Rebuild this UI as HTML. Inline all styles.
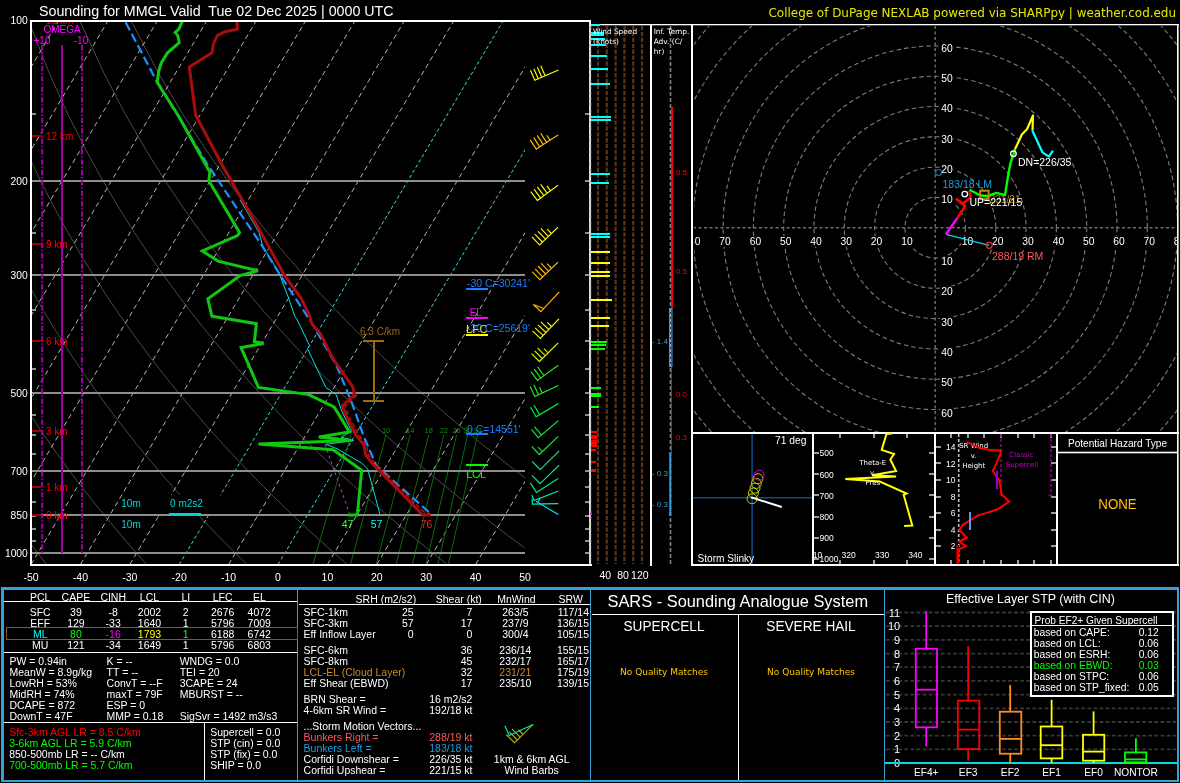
<!DOCTYPE html>
<html><head><meta charset="utf-8"><title>Sounding MMGL</title>
<style>
html,body{margin:0;padding:0;background:#000;overflow:hidden}
svg{display:block}
text{white-space:pre}
.h{font-family:"Liberation Sans",Arial,Helvetica,sans-serif}
.d{font-family:"DejaVu Sans","Liberation Sans",sans-serif}
.c{shape-rendering:crispEdges}
</style></head><body>
<svg width="1180" height="783" viewBox="0 0 1180 783">
<rect width="1180" height="783" fill="#000"/>
<defs><clipPath id="sk"><rect x="32" y="22" width="493" height="542"/></clipPath>
<clipPath id="hodo"><rect x="694" y="26" width="483" height="406"/></clipPath>
<clipPath id="mr"><rect x="32" y="434.9" width="493" height="129.1"/></clipPath>
</defs>
<g clip-path="url(#sk)">
<polyline points="-53.6,564.4 -57.3,558.8 -61,553.1 -64.7,547.2 -68.5,541.2 -72.4,535.1 -76.2,528.7 -80.2,522.2 -84.1,515.5 -88.1,508.6 -92.2,501.5 -96.3,494.1 -100.5,486.5 -104.8,478.7 -109.1,470.6 -113.4,462.2 -117.8,453.4 -122.3,444.4 -126.9,434.9 -131.5,425.1 -136.2,414.8 -140.9,404 -145.7,392.8 -150.7,380.9 -155.6,368.4 -160.7,355.2 -165.8,341.1 -171,326.2 -176.3,310.3 -181.7,293.1 -187.1,274.6 -192.6,254.5 -198.1,232.4 -203.6,208.1 -209.1,180.8 -214.4,149.9 -219.4,114.3 -223.9,72.1 -227.3,20.5" fill="none" stroke="#4a4a4a" stroke-width="1" />
<polyline points="46.5,564.4 42.2,558.8 37.8,553.1 33.3,547.2 28.8,541.2 24.3,535.1 19.6,528.7 14.9,522.2 10.2,515.5 5.4,508.6 0.5,501.5 -4.5,494.1 -9.5,486.5 -14.6,478.7 -19.8,470.6 -25.1,462.2 -30.5,453.4 -35.9,444.4 -41.5,434.9 -47.1,425.1 -52.9,414.8 -58.7,404 -64.7,392.8 -70.8,380.9 -77,368.4 -83.3,355.2 -89.8,341.1 -96.4,326.2 -103.1,310.3 -110,293.1 -117.1,274.6 -124.3,254.5 -131.6,232.4 -139.1,208.1 -146.7,180.8 -154.3,149.9 -161.9,114.3 -169.3,72.1 -176.2,20.5" fill="none" stroke="#4a4a4a" stroke-width="1" />
<polyline points="146.7,564.4 141.7,558.8 136.6,553.1 131.4,547.2 126.2,541.2 120.9,535.1 115.5,528.7 110,522.2 104.5,515.5 98.9,508.6 93.2,501.5 87.4,494.1 81.5,486.5 75.5,478.7 69.4,470.6 63.2,462.2 56.9,453.4 50.5,444.4 43.9,434.9 37.2,425.1 30.4,414.8 23.5,404 16.4,392.8 9.1,380.9 1.7,368.4 -6,355.2 -13.7,341.1 -21.7,326.2 -29.9,310.3 -38.4,293.1 -47,274.6 -56,254.5 -65.1,232.4 -74.6,208.1 -84.3,180.8 -94.3,149.9 -104.5,114.3 -114.8,72.1 -125,20.5" fill="none" stroke="#4a4a4a" stroke-width="1" />
<polyline points="246.9,564.4 241.2,558.8 235.4,553.1 229.5,547.2 223.6,541.2 217.5,535.1 211.4,528.7 205.1,522.2 198.8,515.5 192.4,508.6 185.9,501.5 179.2,494.1 172.5,486.5 165.6,478.7 158.6,470.6 151.5,462.2 144.2,453.4 136.8,444.4 129.3,434.9 121.6,425.1 113.7,414.8 105.6,404 97.4,392.8 89,380.9 80.3,368.4 71.4,355.2 62.3,341.1 52.9,326.2 43.3,310.3 33.3,293.1 23,274.6 12.4,254.5 1.4,232.4 -10.1,208.1 -21.9,180.8 -34.2,149.9 -47,114.3 -60.3,72.1 -73.8,20.5" fill="none" stroke="#4a4a4a" stroke-width="1" />
<polyline points="347.1,564.4 340.7,558.8 334.2,553.1 327.6,547.2 320.9,541.2 314.1,535.1 307.2,528.7 300.3,522.2 293.1,515.5 285.9,508.6 278.6,501.5 271.1,494.1 263.5,486.5 255.7,478.7 247.9,470.6 239.8,462.2 231.6,453.4 223.2,444.4 214.7,434.9 205.9,425.1 197,414.8 187.8,404 178.5,392.8 168.8,380.9 158.9,368.4 148.8,355.2 138.3,341.1 127.6,326.2 116.4,310.3 105,293.1 93,274.6 80.7,254.5 67.8,232.4 54.5,208.1 40.5,180.8 25.8,149.9 10.4,114.3 -5.7,72.1 -22.6,20.5" fill="none" stroke="#4a4a4a" stroke-width="1" />
<polyline points="447.3,564.4 440.2,558.8 433,553.1 425.7,547.2 418.3,541.2 410.8,535.1 403.1,528.7 395.4,522.2 387.5,515.5 379.4,508.6 371.3,501.5 363,494.1 354.5,486.5 345.9,478.7 337.1,470.6 328.1,462.2 319,453.4 309.6,444.4 300.1,434.9 290.3,425.1 280.3,414.8 270,404 259.5,392.8 248.7,380.9 237.6,368.4 226.2,355.2 214.4,341.1 202.2,326.2 189.6,310.3 176.6,293.1 163.1,274.6 149,254.5 134.3,232.4 119,208.1 102.9,180.8 85.9,149.9 67.9,114.3 48.8,72.1 28.5,20.5" fill="none" stroke="#4a4a4a" stroke-width="1" />
<polyline points="547.5,564.4 539.7,558.8 531.8,553.1 523.8,547.2 515.6,541.2 507.4,535.1 499,528.7 490.5,522.2 481.8,515.5 472.9,508.6 464,501.5 454.8,494.1 445.5,486.5 436,478.7 426.3,470.6 416.4,462.2 406.3,453.4 396,444.4 385.4,434.9 374.6,425.1 363.6,414.8 352.2,404 340.5,392.8 328.6,380.9 316.2,368.4 303.5,355.2 290.4,341.1 276.9,326.2 262.8,310.3 248.3,293.1 233.1,274.6 217.3,254.5 200.8,232.4 183.5,208.1 165.2,180.8 145.9,149.9 125.4,114.3 103.4,72.1 79.7,20.5" fill="none" stroke="#4a4a4a" stroke-width="1" />
<polyline points="647.7,564.4 639.2,558.8 630.6,553.1 621.9,547.2 613,541.2 604,535.1 594.9,528.7 585.6,522.2 576.1,515.5 566.5,508.6 556.7,501.5 546.7,494.1 536.5,486.5 526.1,478.7 515.5,470.6 504.7,462.2 493.7,453.4 482.4,444.4 470.8,434.9 459,425.1 446.8,414.8 434.4,404 421.6,392.8 408.4,380.9 394.9,368.4 380.9,355.2 366.5,341.1 351.5,326.2 336,310.3 319.9,293.1 303.2,274.6 285.7,254.5 267.3,232.4 248,208.1 227.6,180.8 206,149.9 182.8,114.3 157.9,72.1 130.9,20.5" fill="none" stroke="#4a4a4a" stroke-width="1" />
<line x1="-512.4" y1="564.5" x2="-188.2" y2="20.5" stroke="#b4b4b4" stroke-width="1" stroke-dasharray="5 3.5"/>
<line x1="-463" y1="564.5" x2="-138.8" y2="20.5" stroke="#b4b4b4" stroke-width="1" stroke-dasharray="5 3.5"/>
<line x1="-413.6" y1="564.5" x2="-89.4" y2="20.5" stroke="#b4b4b4" stroke-width="1" stroke-dasharray="5 3.5"/>
<line x1="-364.2" y1="564.5" x2="-40" y2="20.5" stroke="#b4b4b4" stroke-width="1" stroke-dasharray="5 3.5"/>
<line x1="-314.8" y1="564.5" x2="9.4" y2="20.5" stroke="#b4b4b4" stroke-width="1" stroke-dasharray="5 3.5"/>
<line x1="-265.4" y1="564.5" x2="58.8" y2="20.5" stroke="#b4b4b4" stroke-width="1" stroke-dasharray="5 3.5"/>
<line x1="-216" y1="564.5" x2="108.2" y2="20.5" stroke="#b4b4b4" stroke-width="1" stroke-dasharray="5 3.5"/>
<line x1="-166.6" y1="564.5" x2="157.6" y2="20.5" stroke="#b4b4b4" stroke-width="1" stroke-dasharray="5 3.5"/>
<line x1="-117.2" y1="564.5" x2="207" y2="20.5" stroke="#b4b4b4" stroke-width="1" stroke-dasharray="5 3.5"/>
<line x1="-67.8" y1="564.5" x2="256.4" y2="20.5" stroke="#b4b4b4" stroke-width="1" stroke-dasharray="5 3.5"/>
<line x1="-18.4" y1="564.5" x2="305.8" y2="20.5" stroke="#b4b4b4" stroke-width="1" stroke-dasharray="5 3.5"/>
<line x1="31" y1="564.5" x2="355.2" y2="20.5" stroke="#b4b4b4" stroke-width="1" stroke-dasharray="5 3.5"/>
<line x1="80.4" y1="564.5" x2="404.6" y2="20.5" stroke="#b4b4b4" stroke-width="1" stroke-dasharray="5 3.5"/>
<line x1="129.8" y1="564.5" x2="454" y2="20.5" stroke="#b4b4b4" stroke-width="1" stroke-dasharray="5 3.5"/>
<line x1="179.2" y1="564.5" x2="503.4" y2="20.5" stroke="#48d8d8" stroke-width="1" stroke-dasharray="3.5 2.5"/>
<line x1="228.6" y1="564.5" x2="552.8" y2="20.5" stroke="#b4b4b4" stroke-width="1" stroke-dasharray="5 3.5"/>
<line x1="278" y1="564.5" x2="602.2" y2="20.5" stroke="#48d8d8" stroke-width="1" stroke-dasharray="3.5 2.5"/>
<line x1="327.4" y1="564.5" x2="651.6" y2="20.5" stroke="#b4b4b4" stroke-width="1" stroke-dasharray="5 3.5"/>
<line x1="376.8" y1="564.5" x2="701" y2="20.5" stroke="#b4b4b4" stroke-width="1" stroke-dasharray="5 3.5"/>
<line x1="426.2" y1="564.5" x2="750.4" y2="20.5" stroke="#b4b4b4" stroke-width="1" stroke-dasharray="5 3.5"/>
<line x1="475.6" y1="564.5" x2="799.8" y2="20.5" stroke="#b4b4b4" stroke-width="1" stroke-dasharray="5 3.5"/>
<line x1="525" y1="564.5" x2="849.2" y2="20.5" stroke="#b4b4b4" stroke-width="1" stroke-dasharray="5 3.5"/>
</g>
<g clip-path="url(#sk)">
<line x1="312.9" y1="564.4" x2="351" y2="434.9" stroke="#0a6a0a" stroke-width="1" />
<line x1="350.4" y1="564.4" x2="386.1" y2="434.9" stroke="#0a6a0a" stroke-width="1" />
<text x="386.1" y="433.4" fill="#0d8a0d" font-size="7.5" text-anchor="middle" class="h" >10</text>
<line x1="376.2" y1="564.4" x2="410.2" y2="434.9" stroke="#0a6a0a" stroke-width="1" />
<text x="410.2" y="433.4" fill="#0d8a0d" font-size="7.5" text-anchor="middle" class="h" >14</text>
<line x1="396.1" y1="564.4" x2="428.7" y2="434.9" stroke="#0a6a0a" stroke-width="1" />
<text x="428.7" y="433.4" fill="#0d8a0d" font-size="7.5" text-anchor="middle" class="h" >18</text>
<line x1="412.3" y1="564.4" x2="443.8" y2="434.9" stroke="#0a6a0a" stroke-width="1" />
<text x="443.8" y="433.4" fill="#0d8a0d" font-size="7.5" text-anchor="middle" class="h" >22</text>
<line x1="426" y1="564.4" x2="456.6" y2="434.9" stroke="#0a6a0a" stroke-width="1" />
<text x="456.6" y="433.4" fill="#0d8a0d" font-size="7.5" text-anchor="middle" class="h" >26</text>
<line x1="437.9" y1="564.4" x2="467.7" y2="434.9" stroke="#0a6a0a" stroke-width="1" />
<text x="467.7" y="433.4" fill="#0d8a0d" font-size="7.5" text-anchor="middle" class="h" >30</text>
<line x1="448.4" y1="564.4" x2="477.5" y2="434.9" stroke="#0a6a0a" stroke-width="1" />
<text x="477.5" y="433.4" fill="#0d8a0d" font-size="7.5" text-anchor="middle" class="h" >34</text>
</g>
<rect x="157" y="495" width="63.5" height="19.3" fill="#000" />
<rect x="32" y="180" width="493" height="2" fill="#8e8e8e" class="c"/>
<rect x="32" y="274" width="493" height="2" fill="#8e8e8e" class="c"/>
<rect x="32" y="392" width="493" height="2" fill="#8e8e8e" class="c"/>
<rect x="32" y="470" width="493" height="2" fill="#8e8e8e" class="c"/>
<rect x="32" y="514" width="493" height="2" fill="#8e8e8e" class="c"/>
<rect x="32" y="552" width="493" height="2" fill="#8e8e8e" class="c"/>
<rect x="32" y="113" width="4" height="2" fill="#8e8e8e" class="c"/>
<rect x="585" y="113" width="5" height="2" fill="#8e8e8e" class="c"/>
<rect x="32" y="180" width="4" height="2" fill="#8e8e8e" class="c"/>
<rect x="585" y="180" width="5" height="2" fill="#8e8e8e" class="c"/>
<rect x="32" y="232" width="4" height="2" fill="#8e8e8e" class="c"/>
<rect x="585" y="232" width="5" height="2" fill="#8e8e8e" class="c"/>
<rect x="32" y="274" width="4" height="2" fill="#8e8e8e" class="c"/>
<rect x="585" y="274" width="5" height="2" fill="#8e8e8e" class="c"/>
<rect x="32" y="309" width="4" height="2" fill="#8e8e8e" class="c"/>
<rect x="585" y="309" width="5" height="2" fill="#8e8e8e" class="c"/>
<rect x="32" y="340" width="4" height="2" fill="#8e8e8e" class="c"/>
<rect x="585" y="340" width="5" height="2" fill="#8e8e8e" class="c"/>
<rect x="32" y="368" width="4" height="2" fill="#8e8e8e" class="c"/>
<rect x="585" y="368" width="5" height="2" fill="#8e8e8e" class="c"/>
<rect x="32" y="392" width="4" height="2" fill="#8e8e8e" class="c"/>
<rect x="585" y="392" width="5" height="2" fill="#8e8e8e" class="c"/>
<rect x="32" y="414" width="4" height="2" fill="#8e8e8e" class="c"/>
<rect x="585" y="414" width="5" height="2" fill="#8e8e8e" class="c"/>
<rect x="32" y="434" width="4" height="2" fill="#8e8e8e" class="c"/>
<rect x="585" y="434" width="5" height="2" fill="#8e8e8e" class="c"/>
<rect x="32" y="453" width="4" height="2" fill="#8e8e8e" class="c"/>
<rect x="585" y="453" width="5" height="2" fill="#8e8e8e" class="c"/>
<rect x="32" y="470" width="4" height="2" fill="#8e8e8e" class="c"/>
<rect x="585" y="470" width="5" height="2" fill="#8e8e8e" class="c"/>
<rect x="32" y="486" width="4" height="2" fill="#8e8e8e" class="c"/>
<rect x="585" y="486" width="5" height="2" fill="#8e8e8e" class="c"/>
<rect x="32" y="501" width="4" height="2" fill="#8e8e8e" class="c"/>
<rect x="585" y="501" width="5" height="2" fill="#8e8e8e" class="c"/>
<rect x="32" y="515" width="4" height="2" fill="#8e8e8e" class="c"/>
<rect x="585" y="515" width="5" height="2" fill="#8e8e8e" class="c"/>
<rect x="32" y="528" width="4" height="2" fill="#8e8e8e" class="c"/>
<rect x="585" y="528" width="5" height="2" fill="#8e8e8e" class="c"/>
<rect x="32" y="540" width="4" height="2" fill="#8e8e8e" class="c"/>
<rect x="585" y="540" width="5" height="2" fill="#8e8e8e" class="c"/>
<rect x="32" y="552" width="4" height="2" fill="#8e8e8e" class="c"/>
<rect x="585" y="552" width="5" height="2" fill="#8e8e8e" class="c"/>
<rect x="61" y="45" width="2" height="508" fill="#a000a0" class="c"/>
<line x1="42.2" y1="45" x2="42.2" y2="553" stroke="#a000a0" stroke-width="2" stroke-dasharray="5.4 1.8 1.4 1.8"/>
<line x1="82" y1="45" x2="82" y2="553" stroke="#a000a0" stroke-width="2" stroke-dasharray="5.4 1.8 1.4 1.8"/>
<text x="62" y="33" fill="#ff00ff" font-size="10" text-anchor="middle" class="h" >OMEGA</text>
<text x="42" y="44" fill="#ff00ff" font-size="10" text-anchor="middle" class="h" >+10</text>
<text x="81" y="44" fill="#ff00ff" font-size="10" text-anchor="middle" class="h" >-10</text>
<rect x="32" y="514" width="9" height="2" fill="#a00000" class="c"/>
<text x="46" y="518.5" fill="#ff0000" font-size="10" text-anchor="start" class="h" >0 km</text>
<rect x="32" y="486" width="9" height="2" fill="#a00000" class="c"/>
<text x="46" y="490.5" fill="#ff0000" font-size="10" text-anchor="start" class="h" >1 km</text>
<rect x="32" y="430" width="9" height="2" fill="#a00000" class="c"/>
<text x="46" y="434.5" fill="#ff0000" font-size="10" text-anchor="start" class="h" >3 km</text>
<rect x="32" y="340" width="9" height="2" fill="#a00000" class="c"/>
<text x="46" y="344.5" fill="#ff0000" font-size="10" text-anchor="start" class="h" >6 km</text>
<rect x="32" y="243" width="9" height="2" fill="#a00000" class="c"/>
<text x="46" y="247.5" fill="#ff0000" font-size="10" text-anchor="start" class="h" >9 km</text>
<rect x="32" y="135" width="9" height="2" fill="#a00000" class="c"/>
<text x="46" y="139.5" fill="#ff0000" font-size="10" text-anchor="start" class="h" >12 km</text>
<g clip-path="url(#sk)">
<text x="46" y="23.6" fill="#ff0000" font-size="10" text-anchor="start" class="h" >15 km</text>
</g>
<polyline points="324.9,444.3 349.3,513" fill="none" stroke="#e000e0" stroke-width="1.2" stroke-dasharray="3 3"/>
<polyline points="240,200 245.6,209 259,232.5 263,246.8 278.3,271.3 288.6,297.9 294.7,316.3 297.3,320 309.6,345.6 307.5,348.6 325.9,387.5 336.2,394.6 341.3,409.9 351.5,431.4 341.3,437.1 353.5,440.6 325.9,444.3 337.2,448.8 361.7,463.1 367.7,469.1 379.9,514" fill="none" stroke="#00e0e0" stroke-width="1" />
<polyline points="125.6,22.2 156.3,80.4 207.8,165 262,245.7 280.4,275.4 313.1,325 337.2,367 351.5,401.8 363.8,436.5 376,465.1 392.4,480 430,513" fill="none" stroke="#1e90ff" stroke-width="2.2" stroke-dasharray="9 4"/>
<polyline points="182.4,21.1 178.7,29.3 175.2,32.4 177.7,35.4 179.3,42.6 167.5,52.8 161.3,63 158.7,71.2 157.2,82.5 178.7,116.2 205.8,165 209.9,172.2 208.8,180.7 239.5,232.5 237.5,235.5 202.3,250.9 218,261.1 257.9,270.7 240.5,275.4 207.8,298.9 211.9,316.3 256.4,323.7 254.4,341.5 263.6,343.5 241.1,347.6 258.5,387.5 308.6,394.6 334.1,406.9 349.4,432 318.8,437.1 351.5,440.6 258.5,444.1 333.1,449.8 361.7,470.2 357.5,513 357,515 348,515" fill="none" stroke="#10c810" stroke-width="3" stroke-linejoin="miter"/>
<polyline points="237,21.1 237.4,29.3 224.7,31.8 217.5,35.4 213.5,43.6 212,52.8 189.3,67.1 195.7,115.2 222.1,165 261,232.5 284.5,275.4 300.8,297.9 309,314.2 311,321 312.7,325.1 320.8,334.3 333.1,358.8 352.5,386.4 354.6,394.6 342.3,405.9 347.4,418.1 355.6,434.5 363.8,444.7 365.8,454.9 371.9,463.1 420.8,513 423,515 431,515" fill="none" stroke="#a80c0c" stroke-width="3" stroke-linejoin="round"/>
<polyline points="357,395 345,406 350,418 358.5,434.5 366.5,444.7 368.5,454.9 374.5,463.1 424,512 433,514.5" fill="none" stroke="#ff0000" stroke-width="1.2" stroke-dasharray="4 3"/>
<text x="347.5" y="528" fill="#30ff30" font-size="10.5" text-anchor="middle" class="h"  transform="matrix(1 0 0 1.05 0 -26.4)">47</text>
<text x="376.5" y="528" fill="#00ffff" font-size="10.5" text-anchor="middle" class="h"  transform="matrix(1 0 0 1.05 0 -26.4)">57</text>
<text x="426.5" y="528" fill="#ff2020" font-size="10.5" text-anchor="middle" class="h"  transform="matrix(1 0 0 1.05 0 -26.4)">76</text>
<rect x="373" y="341" width="2" height="60" fill="#9a6a16" class="c"/>
<rect x="363" y="340" width="21" height="2" fill="#9a6a16" class="c"/>
<rect x="363" y="400" width="21" height="2" fill="#9a6a16" class="c"/>
<text x="380" y="335" fill="#9a6a16" font-size="10" text-anchor="middle" class="h" >6.3 C/km</text>
<text x="131" y="506.8" fill="#00d8d8" font-size="10" text-anchor="middle" class="h" >10m</text>
<text x="131" y="527.5" fill="#00d8d8" font-size="10" text-anchor="middle" class="h" >10m</text>
<text x="186.5" y="506.8" fill="#00d8d8" font-size="10" text-anchor="middle" class="h" >0 m2s2</text>
<rect x="169" y="513" width="32" height="2" fill="#00d8d8" class="c"/>
<text x="467" y="286.6" fill="#1a7cff" font-size="10.5" text-anchor="start" class="h"  transform="matrix(1 0 0 1.05 0 -14.33)">-30 C=30241'</text>
<rect x="466" y="288" width="22" height="2" fill="#1a7cff" class="c"/>
<text x="469.7" y="316" fill="#ff00ff" font-size="10" text-anchor="start" class="h" >EL</text>
<rect x="466" y="317" width="22" height="2" fill="#ff00ff" class="c"/>
<text x="466" y="332.6" fill="#ffff00" font-size="11.3" text-anchor="start" class="h" >LFC</text>
<rect x="466" y="333.5" width="22" height="2.5" fill="#ffff00" class="c"/>
<text x="467" y="332" fill="#1a7cff" font-size="10.5" text-anchor="start" class="h"  transform="matrix(1 0 0 1.05 0 -16.6)">-20 C=25619'</text>
<text x="467" y="432.7" fill="#1a7cff" font-size="10.5" text-anchor="start" class="h"  transform="matrix(1 0 0 1.05 0 -21.635)">0 C=14551'</text>
<rect x="466" y="433" width="22" height="2" fill="#1a7cff" class="c"/>
<rect x="466" y="464" width="22" height="2" fill="#00ff00" class="c"/>
<text x="466" y="477.8" fill="#00ff00" font-size="11" text-anchor="start" class="h" >LCL</text>
<rect x="30" y="20" width="561" height="2" fill="#fff" class="c"/>
<rect x="30" y="20" width="2" height="546" fill="#fff" class="c"/>
<rect x="30" y="564" width="562" height="2" fill="#fff" class="c"/>
<rect x="589.3" y="20" width="1.4" height="546" fill="#fff" />
<text x="27.8" y="24.5" fill="#fff" font-size="10.3" text-anchor="end" class="h"  transform="matrix(1 0 0 1.04 0 -0.98)">100</text>
<text x="27.8" y="184.8" fill="#fff" font-size="10.3" text-anchor="end" class="h"  transform="matrix(1 0 0 1.04 0 -7.393)">200</text>
<text x="27.8" y="278.6" fill="#fff" font-size="10.3" text-anchor="end" class="h"  transform="matrix(1 0 0 1.04 0 -11.144)">300</text>
<text x="27.8" y="396.8" fill="#fff" font-size="10.3" text-anchor="end" class="h"  transform="matrix(1 0 0 1.04 0 -15.871)">500</text>
<text x="27.8" y="474.6" fill="#fff" font-size="10.3" text-anchor="end" class="h"  transform="matrix(1 0 0 1.04 0 -18.984)">700</text>
<text x="27.8" y="519.5" fill="#fff" font-size="10.3" text-anchor="end" class="h"  transform="matrix(1 0 0 1.04 0 -20.78)">850</text>
<text x="27.8" y="557.1" fill="#fff" font-size="10.3" text-anchor="end" class="h"  transform="matrix(1 0 0 1.04 0 -22.284)">1000</text>
<text x="31" y="581" fill="#fff" font-size="10.5" text-anchor="middle" class="h"  transform="matrix(1 0 0 1.05 0 -29.05)">-50</text>
<text x="80.4" y="581" fill="#fff" font-size="10.5" text-anchor="middle" class="h"  transform="matrix(1 0 0 1.05 0 -29.05)">-40</text>
<text x="129.8" y="581" fill="#fff" font-size="10.5" text-anchor="middle" class="h"  transform="matrix(1 0 0 1.05 0 -29.05)">-30</text>
<text x="179.2" y="581" fill="#fff" font-size="10.5" text-anchor="middle" class="h"  transform="matrix(1 0 0 1.05 0 -29.05)">-20</text>
<text x="228.6" y="581" fill="#fff" font-size="10.5" text-anchor="middle" class="h"  transform="matrix(1 0 0 1.05 0 -29.05)">-10</text>
<text x="278" y="581" fill="#fff" font-size="10.5" text-anchor="middle" class="h"  transform="matrix(1 0 0 1.05 0 -29.05)">0</text>
<text x="327.4" y="581" fill="#fff" font-size="10.5" text-anchor="middle" class="h"  transform="matrix(1 0 0 1.05 0 -29.05)">10</text>
<text x="376.8" y="581" fill="#fff" font-size="10.5" text-anchor="middle" class="h"  transform="matrix(1 0 0 1.05 0 -29.05)">20</text>
<text x="426.2" y="581" fill="#fff" font-size="10.5" text-anchor="middle" class="h"  transform="matrix(1 0 0 1.05 0 -29.05)">30</text>
<text x="475.6" y="581" fill="#fff" font-size="10.5" text-anchor="middle" class="h"  transform="matrix(1 0 0 1.05 0 -29.05)">40</text>
<text x="525" y="581" fill="#fff" font-size="10.5" text-anchor="middle" class="h"  transform="matrix(1 0 0 1.05 0 -29.05)">50</text>
<text x="39" y="15.6" fill="#fff" font-size="14.25" text-anchor="start" class="h" >Sounding for MMGL Valid  Tue 02 Dec 2025 | 0000 UTC</text>
<text x="1176" y="16.5" fill="#e8e800" font-size="11.95" text-anchor="end" class="d" >College of DuPage NEXLAB powered via SHARPpy | weather.cod.edu</text>
<path d="M557.9 70.3L534.8 80.3M534.8 80.3L530.7 70.8M538.2 78.8L534.1 69.3M541.7 77.3L537.6 67.8M545.1 75.8L541 66.3" fill="none" stroke="#ffff00" stroke-width="1.15" stroke-linecap="square"/>
<path d="M557.6 135.3L536.3 149.1M536.3 149.1L530.6 140.4M539.7 146.9L534.1 138.1M543.2 144.6L537.5 135.9M546.6 142.4L541 133.7M550.1 140.2L547.1 135.7" fill="none" stroke="#ffc000" stroke-width="1.15" stroke-linecap="square"/>
<path d="M557.6 185.5L537.3 200.5M537.3 200.5L531.1 192.1M540.6 198.1L534.4 189.7M543.9 195.6L537.7 187.3M547.2 193.2L541 184.8M550.5 190.8L547.3 186.4" fill="none" stroke="#ffff00" stroke-width="1.15" stroke-linecap="square"/>
<path d="M557.6 227.5L539.6 244.9M539.6 244.9L532.4 237.4M542.5 242.1L535.3 234.6M545.5 239.2L538.3 231.7M548.4 236.4L541.2 228.9M551.4 233.5L547.6 229.6" fill="none" stroke="#ffff00" stroke-width="1.15" stroke-linecap="square"/>
<path d="M557.6 262.5L539.8 279.7M539.8 279.7L532.6 272.2M542.7 276.9L535.5 269.4M545.7 274L538.5 266.5M548.6 271.2L541.4 263.7M551.6 268.3L547.4 264" fill="none" stroke="#ffc000" stroke-width="1.15" stroke-linecap="square"/>
<path d="M558.8 292.4L540.9 311.6M540.9 311.6L533.3 304.5L543.8 308.5" fill="none" stroke="#ffb400" stroke-width="1.15" stroke-linecap="square"/>
<path d="M558.5 319.3L540.3 338.4M540.3 338.4L532.8 331.2M543.1 335.4L535.6 328.3M546 332.5L538.4 325.3M548.8 329.5L541.3 322.3M551.6 326.5L547.7 322.8" fill="none" stroke="#ffff00" stroke-width="1.15" stroke-linecap="square"/>
<path d="M557.8 343.4L539.4 361.5M539.4 361.5L532.1 354.1M542.3 358.6L535 351.2M545.2 355.7L538 348.3M548.2 352.9L544.4 349" fill="none" stroke="#d8f000" stroke-width="1.15" stroke-linecap="square"/>
<path d="M557.8 365.6L537.4 380.4M537.4 380.4L531.3 372M540.7 378L534.6 369.6M544 375.6L537.9 367.2" fill="none" stroke="#30f020" stroke-width="1.15" stroke-linecap="square"/>
<path d="M557.8 385.8L534.8 396.5M534.8 396.5L530.4 387.1M538.5 394.8L534.1 385.3M542.2 393L539.8 387.8" fill="none" stroke="#20f020" stroke-width="1.15" stroke-linecap="square"/>
<path d="M557.8 403.9L536.1 416.7M536.1 416.7L530.8 407.7M539.6 414.6L534.3 405.7" fill="none" stroke="#00f040" stroke-width="1.15" stroke-linecap="square"/>
<path d="M557.8 421L538.4 437.6M538.4 437.6L531.6 429.7M541.5 434.9L534.8 427" fill="none" stroke="#00ee44" stroke-width="1.15" stroke-linecap="square"/>
<path d="M557.8 436.9L539.4 454.5M539.4 454.5L532.2 447M542.4 451.7L538.5 447.6" fill="none" stroke="#00ee33" stroke-width="1.15" stroke-linecap="square"/>
<path d="M558.8 451.4L540.2 469.6M540.2 469.6L532.5 461.7" fill="none" stroke="#00ee88" stroke-width="1.15" stroke-linecap="square"/>
<path d="M558.8 465.5L540.1 483.6M540.1 483.6L532.4 475.7" fill="none" stroke="#00ee88" stroke-width="1.15" stroke-linecap="square"/>
<path d="M557.8 478.8L536.4 492.4M536.4 492.4L530.7 483.4" fill="none" stroke="#00f080" stroke-width="1.15" stroke-linecap="square"/>
<path d="M557.8 491.3L534.1 500.5M534.1 500.5L532.1 495.5" fill="none" stroke="#00f0b0" stroke-width="1.15" stroke-linecap="square"/>
<path d="M557.8 503.6L532.3 504.1M532.3 504.1L532.2 499.2" fill="none" stroke="#00f0b0" stroke-width="1.15" stroke-linecap="square"/>
<path d="M557.8 514.3L536.4 501.5M537.7 502.3L540 498.4" fill="none" stroke="#00e8ff" stroke-width="1.15" stroke-linecap="square"/>
<line x1="590.5" y1="26" x2="590.5" y2="564" stroke="#5e3219" stroke-width="2.2" stroke-dasharray="4.3 1.6"/>
<line x1="598" y1="26" x2="598" y2="564" stroke="#5e3219" stroke-width="2.2" stroke-dasharray="4.3 1.6"/>
<line x1="606.8" y1="26" x2="606.8" y2="564" stroke="#5e3219" stroke-width="2.2" stroke-dasharray="4.3 1.6"/>
<line x1="615.6" y1="26" x2="615.6" y2="564" stroke="#5e3219" stroke-width="2.2" stroke-dasharray="4.3 1.6"/>
<line x1="624.4" y1="26" x2="624.4" y2="564" stroke="#5e3219" stroke-width="2.2" stroke-dasharray="4.3 1.6"/>
<line x1="633.2" y1="26" x2="633.2" y2="564" stroke="#5e3219" stroke-width="2.2" stroke-dasharray="4.3 1.6"/>
<line x1="642" y1="26" x2="642" y2="564" stroke="#5e3219" stroke-width="2.2" stroke-dasharray="4.3 1.6"/>
<rect x="589.3" y="20" width="1.4" height="546" fill="#fff" />
<rect x="591" y="24" width="588" height="1.3" fill="#fff" />
<rect x="650" y="24" width="2" height="542" fill="#fff" class="c"/>
<rect x="691" y="24" width="2" height="542" fill="#fff" class="c"/>
<rect x="591" y="24" width="9" height="2" fill="#00ffff" class="c"/>
<rect x="591" y="32" width="13" height="4" fill="#00ffff" class="c"/>
<rect x="591" y="38" width="14" height="2" fill="#00ffff" class="c"/>
<rect x="591" y="44" width="15" height="2" fill="#00ffff" class="c"/>
<rect x="591" y="55" width="16" height="2" fill="#00ffff" class="c"/>
<rect x="591" y="68" width="17" height="2" fill="#00ffff" class="c"/>
<rect x="591" y="83" width="19" height="2" fill="#00ffff" class="c"/>
<rect x="591" y="116" width="20" height="2" fill="#00ffff" class="c"/>
<rect x="591" y="119" width="20" height="2" fill="#00ffff" class="c"/>
<rect x="591" y="173" width="19" height="2" fill="#00ffff" class="c"/>
<rect x="591" y="182" width="18" height="2" fill="#00ffff" class="c"/>
<rect x="591" y="233" width="19" height="2" fill="#00ffff" class="c"/>
<rect x="591" y="236" width="19" height="2" fill="#00ffff" class="c"/>
<rect x="591" y="251" width="19" height="2" fill="#ffff00" class="c"/>
<rect x="591" y="262" width="19" height="2" fill="#ffff00" class="c"/>
<rect x="591" y="271" width="19" height="2" fill="#ffff00" class="c"/>
<rect x="591" y="275" width="19" height="2" fill="#ffff00" class="c"/>
<rect x="591" y="299" width="21" height="2" fill="#ffff00" class="c"/>
<rect x="591" y="317" width="19" height="2" fill="#ffff00" class="c"/>
<rect x="591" y="325" width="18" height="2" fill="#ffff00" class="c"/>
<rect x="591" y="341" width="16" height="2" fill="#00ff00" class="c"/>
<rect x="591" y="344" width="15" height="2" fill="#00ff00" class="c"/>
<rect x="591" y="348" width="14" height="2" fill="#00ff00" class="c"/>
<rect x="591" y="387" width="10" height="2" fill="#00ff00" class="c"/>
<rect x="591" y="393" width="10" height="4" fill="#00ff00" class="c"/>
<rect x="591" y="406" width="8" height="2" fill="#00ff00" class="c"/>
<rect x="591" y="431" width="7" height="2" fill="#ff0000" class="c"/>
<rect x="591" y="435" width="6" height="4" fill="#ff0000" class="c"/>
<rect x="591" y="440" width="5.5" height="7" fill="#ff0000" class="c"/>
<rect x="591" y="449" width="5" height="2" fill="#ff0000" class="c"/>
<rect x="591" y="461" width="5" height="2" fill="#ff0000" class="c"/>
<rect x="591" y="469" width="5" height="3" fill="#ff0000" class="c"/>
<rect x="590" y="513" width="2" height="2" fill="#ff00ff" />
<text x="593" y="33.8" fill="#fff" font-size="7.4" text-anchor="start" class="d" >Wind Speed</text>
<text x="593" y="43.8" fill="#fff" font-size="7.4" text-anchor="start" class="d" >(knots)</text>
<text x="605.3" y="579.2" fill="#fff" font-size="10.5" text-anchor="middle" class="h"  transform="matrix(1 0 0 1.05 0 -28.96)">40</text>
<text x="623.1" y="579.2" fill="#fff" font-size="10.5" text-anchor="middle" class="h"  transform="matrix(1 0 0 1.05 0 -28.96)">80</text>
<text x="639.8" y="579.2" fill="#fff" font-size="10.5" text-anchor="middle" class="h"  transform="matrix(1 0 0 1.05 0 -28.96)">120</text>
<line x1="670.5" y1="26" x2="670.5" y2="564" stroke="#808080" stroke-width="1.6" stroke-dasharray="4 2"/>
<text x="653.7" y="33.8" fill="#fff" font-size="7.4" text-anchor="start" class="d" >Inf. Temp.</text>
<text x="653.7" y="43.8" fill="#fff" font-size="7.4" text-anchor="start" class="d" >Adv. (C/</text>
<text x="653.7" y="53.8" fill="#fff" font-size="7.4" text-anchor="start" class="d" >hr)</text>
<rect x="671" y="107" width="2" height="201" fill="#ff0000" class="c"/>
<rect x="669.5" y="308.5" width="2.5" height="58" fill="#1a3a55" stroke="#3d9ad6" stroke-width="1" />
<line x1="670.5" y1="309" x2="670.5" y2="366" stroke="#9ac" stroke-width="1" stroke-dasharray="3 2"/>
<rect x="671" y="367" width="1.3" height="85" fill="#ff0000" class="c"/>
<rect x="669.3" y="452" width="2" height="64" fill="#3d9ad6" />
<text x="675.9" y="175" fill="#ff0000" font-size="8" text-anchor="start" class="h" >0.5</text>
<text x="675.9" y="274" fill="#ff0000" font-size="8" text-anchor="start" class="h" >0.5</text>
<text x="675.9" y="397" fill="#ff0000" font-size="8" text-anchor="start" class="h" >0.0</text>
<text x="675.9" y="439.7" fill="#ff0000" font-size="8" text-anchor="start" class="h" >0.3</text>
<text x="667.9" y="344.2" fill="#3d9ad6" font-size="8" text-anchor="end" class="h" >- 1.4</text>
<text x="667.9" y="475.6" fill="#3d9ad6" font-size="8" text-anchor="end" class="h" >- 0.3</text>
<text x="667.9" y="506.5" fill="#3d9ad6" font-size="8" text-anchor="end" class="h" >- 0.3</text>
<g clip-path="url(#hodo)">
<circle cx="935.2" cy="227.7" r="30.3" fill="none" stroke="#7c7c7c" stroke-width="1.1" stroke-dasharray="4.5 3"/>
<circle cx="935.2" cy="227.7" r="60.6" fill="none" stroke="#7c7c7c" stroke-width="1.1" stroke-dasharray="4.5 3"/>
<circle cx="935.2" cy="227.7" r="90.9" fill="none" stroke="#7c7c7c" stroke-width="1.1" stroke-dasharray="4.5 3"/>
<circle cx="935.2" cy="227.7" r="121.2" fill="none" stroke="#7c7c7c" stroke-width="1.1" stroke-dasharray="4.5 3"/>
<circle cx="935.2" cy="227.7" r="151.5" fill="none" stroke="#7c7c7c" stroke-width="1.1" stroke-dasharray="4.5 3"/>
<circle cx="935.2" cy="227.7" r="181.8" fill="none" stroke="#7c7c7c" stroke-width="1.1" stroke-dasharray="4.5 3"/>
<circle cx="935.2" cy="227.7" r="212.1" fill="none" stroke="#7c7c7c" stroke-width="1.1" stroke-dasharray="4.5 3"/>
<circle cx="935.2" cy="227.7" r="242.4" fill="none" stroke="#7c7c7c" stroke-width="1.1" stroke-dasharray="4.5 3"/>
<circle cx="935.2" cy="227.7" r="272.7" fill="none" stroke="#7c7c7c" stroke-width="1.1" stroke-dasharray="4.5 3"/>
<circle cx="935.2" cy="227.7" r="303" fill="none" stroke="#7c7c7c" stroke-width="1.1" stroke-dasharray="4.5 3"/>
<circle cx="935.2" cy="227.7" r="333.3" fill="none" stroke="#7c7c7c" stroke-width="1.1" stroke-dasharray="4.5 3"/>
<circle cx="935.2" cy="227.7" r="363.6" fill="none" stroke="#7c7c7c" stroke-width="1.1" stroke-dasharray="4.5 3"/>
<circle cx="935.2" cy="227.7" r="393.9" fill="none" stroke="#7c7c7c" stroke-width="1.1" stroke-dasharray="4.5 3"/>
<line x1="935.2" y1="26" x2="935.2" y2="432" stroke="#6e6e6e" stroke-width="1.4" stroke-dasharray="3 2.5"/>
<line x1="693" y1="227.7" x2="1177" y2="227.7" stroke="#6e6e6e" stroke-width="1.4" stroke-dasharray="3 2.5"/>
<rect x="900.4" y="236.2" width="13" height="10.5" fill="#000" />
<text x="906.9" y="244.7" fill="#fff" font-size="10.3" text-anchor="middle" class="h"  transform="matrix(1 0 0 1.04 0 -9.788)">10</text>
<rect x="940.2" y="194.4" width="13.5" height="10.5" fill="#000" />
<text x="941.2" y="203.4" fill="#fff" font-size="10.3" text-anchor="start" class="h"  transform="matrix(1 0 0 1.04 0 -8.136)">10</text>
<rect x="961" y="236.2" width="13" height="10.5" fill="#000" />
<text x="967.5" y="244.7" fill="#fff" font-size="10.3" text-anchor="middle" class="h"  transform="matrix(1 0 0 1.04 0 -9.788)">10</text>
<rect x="940.2" y="256.2" width="13.5" height="10.5" fill="#000" />
<text x="941.2" y="265.2" fill="#fff" font-size="10.3" text-anchor="start" class="h"  transform="matrix(1 0 0 1.04 0 -10.608)">10</text>
<rect x="870.1" y="236.2" width="13" height="10.5" fill="#000" />
<text x="876.6" y="244.7" fill="#fff" font-size="10.3" text-anchor="middle" class="h"  transform="matrix(1 0 0 1.04 0 -9.788)">20</text>
<rect x="940.2" y="164.1" width="13.5" height="10.5" fill="#000" />
<text x="941.2" y="173.1" fill="#fff" font-size="10.3" text-anchor="start" class="h"  transform="matrix(1 0 0 1.04 0 -6.924)">20</text>
<rect x="991.3" y="236.2" width="13" height="10.5" fill="#000" />
<text x="997.8" y="244.7" fill="#fff" font-size="10.3" text-anchor="middle" class="h"  transform="matrix(1 0 0 1.04 0 -9.788)">20</text>
<rect x="940.2" y="286.5" width="13.5" height="10.5" fill="#000" />
<text x="941.2" y="295.5" fill="#fff" font-size="10.3" text-anchor="start" class="h"  transform="matrix(1 0 0 1.04 0 -11.82)">20</text>
<rect x="839.8" y="236.2" width="13" height="10.5" fill="#000" />
<text x="846.3" y="244.7" fill="#fff" font-size="10.3" text-anchor="middle" class="h"  transform="matrix(1 0 0 1.04 0 -9.788)">30</text>
<rect x="940.2" y="133.8" width="13.5" height="10.5" fill="#000" />
<text x="941.2" y="142.8" fill="#fff" font-size="10.3" text-anchor="start" class="h"  transform="matrix(1 0 0 1.04 0 -5.712)">30</text>
<rect x="1021.6" y="236.2" width="13" height="10.5" fill="#000" />
<text x="1028.1" y="244.7" fill="#fff" font-size="10.3" text-anchor="middle" class="h"  transform="matrix(1 0 0 1.04 0 -9.788)">30</text>
<rect x="940.2" y="316.8" width="13.5" height="10.5" fill="#000" />
<text x="941.2" y="325.8" fill="#fff" font-size="10.3" text-anchor="start" class="h"  transform="matrix(1 0 0 1.04 0 -13.032)">30</text>
<rect x="809.5" y="236.2" width="13" height="10.5" fill="#000" />
<text x="816" y="244.7" fill="#fff" font-size="10.3" text-anchor="middle" class="h"  transform="matrix(1 0 0 1.04 0 -9.788)">40</text>
<rect x="940.2" y="103.5" width="13.5" height="10.5" fill="#000" />
<text x="941.2" y="112.5" fill="#fff" font-size="10.3" text-anchor="start" class="h"  transform="matrix(1 0 0 1.04 0 -4.5)">40</text>
<rect x="1051.9" y="236.2" width="13" height="10.5" fill="#000" />
<text x="1058.4" y="244.7" fill="#fff" font-size="10.3" text-anchor="middle" class="h"  transform="matrix(1 0 0 1.04 0 -9.788)">40</text>
<rect x="940.2" y="347.1" width="13.5" height="10.5" fill="#000" />
<text x="941.2" y="356.1" fill="#fff" font-size="10.3" text-anchor="start" class="h"  transform="matrix(1 0 0 1.04 0 -14.244)">40</text>
<rect x="779.2" y="236.2" width="13" height="10.5" fill="#000" />
<text x="785.7" y="244.7" fill="#fff" font-size="10.3" text-anchor="middle" class="h"  transform="matrix(1 0 0 1.04 0 -9.788)">50</text>
<rect x="940.2" y="73.2" width="13.5" height="10.5" fill="#000" />
<text x="941.2" y="82.2" fill="#fff" font-size="10.3" text-anchor="start" class="h"  transform="matrix(1 0 0 1.04 0 -3.288)">50</text>
<rect x="1082.2" y="236.2" width="13" height="10.5" fill="#000" />
<text x="1088.7" y="244.7" fill="#fff" font-size="10.3" text-anchor="middle" class="h"  transform="matrix(1 0 0 1.04 0 -9.788)">50</text>
<rect x="940.2" y="377.4" width="13.5" height="10.5" fill="#000" />
<text x="941.2" y="386.4" fill="#fff" font-size="10.3" text-anchor="start" class="h"  transform="matrix(1 0 0 1.04 0 -15.456)">50</text>
<rect x="748.9" y="236.2" width="13" height="10.5" fill="#000" />
<text x="755.4" y="244.7" fill="#fff" font-size="10.3" text-anchor="middle" class="h"  transform="matrix(1 0 0 1.04 0 -9.788)">60</text>
<rect x="940.2" y="42.9" width="13.5" height="10.5" fill="#000" />
<text x="941.2" y="51.9" fill="#fff" font-size="10.3" text-anchor="start" class="h"  transform="matrix(1 0 0 1.04 0 -2.076)">60</text>
<rect x="1112.5" y="236.2" width="13" height="10.5" fill="#000" />
<text x="1119" y="244.7" fill="#fff" font-size="10.3" text-anchor="middle" class="h"  transform="matrix(1 0 0 1.04 0 -9.788)">60</text>
<rect x="940.2" y="407.7" width="13.5" height="10.5" fill="#000" />
<text x="941.2" y="416.7" fill="#fff" font-size="10.3" text-anchor="start" class="h"  transform="matrix(1 0 0 1.04 0 -16.668)">60</text>
<rect x="718.6" y="236.2" width="13" height="10.5" fill="#000" />
<text x="725.1" y="244.7" fill="#fff" font-size="10.3" text-anchor="middle" class="h"  transform="matrix(1 0 0 1.04 0 -9.788)">70</text>
<rect x="1142.8" y="236.2" width="13" height="10.5" fill="#000" />
<text x="1149.3" y="244.7" fill="#fff" font-size="10.3" text-anchor="middle" class="h"  transform="matrix(1 0 0 1.04 0 -9.788)">70</text>
<rect x="688.3" y="236.2" width="13" height="10.5" fill="#000" />
<text x="694.8" y="244.7" fill="#fff" font-size="10.3" text-anchor="middle" class="h"  transform="matrix(1 0 0 1.04 0 -9.788)">80</text>
<rect x="1173.1" y="236.2" width="13" height="10.5" fill="#000" />
<text x="1179.6" y="244.7" fill="#fff" font-size="10.3" text-anchor="middle" class="h"  transform="matrix(1 0 0 1.04 0 -9.788)">80</text>
</g>
<line x1="945.9" y1="234.3" x2="989.2" y2="245.3" stroke="#00d8e8" stroke-width="1.2" />
<polyline points="945.9,234.3 957.4,217.9" fill="none" stroke="#ff00ff" stroke-width="2.4" />
<polyline points="957.4,217.9 965.1,206.2 956.7,199.3 963,203.5 970.5,197.5 969.7,190.6" fill="none" stroke="#ff0000" stroke-width="2.6" stroke-linejoin="round"/>
<polyline points="969.7,189.8 979.7,195.2 987.3,196.2 996.5,192.9 1005,195.2 1007.3,180.6 1010.3,163.7 1013.4,154.5 1015,149.2" fill="none" stroke="#00ff00" stroke-width="2.4" stroke-linejoin="round"/>
<polyline points="1015,149.2 1022,134.2 1027,129.2 1033,115.4 1032.5,130.3" fill="none" stroke="#ffff00" stroke-width="2.2" stroke-linejoin="round"/>
<polyline points="1032.2,130.3 1042.4,152.3 1049,156.7 1052.9,150.7" fill="none" stroke="#00ffff" stroke-width="2.2" stroke-linejoin="round"/>
<rect x="980.2" y="190.7" width="8.4" height="8.4" fill="none" stroke="#b8860b" stroke-width="2" />
<text x="989.5" y="203" fill="#b8860b" font-size="10.2" text-anchor="start" class="h" >231/21</text>
<circle cx="1013.4" cy="153.8" r="2.8" fill="none" stroke="#fff" stroke-width="1.3"/>
<text x="1018" y="166" fill="#fff" font-size="10.5" text-anchor="start" class="h"  transform="matrix(1 0 0 1.05 0 -8.3)">DN=226/35</text>
<circle cx="964.8" cy="194.1" r="2.8" fill="none" stroke="#fff" stroke-width="1.3"/>
<text x="969.5" y="206" fill="#fff" font-size="10.5" text-anchor="start" class="h"  transform="matrix(1 0 0 1.05 0 -10.3)">UP=221/15</text>
<circle cx="938.6" cy="172.5" r="3" fill="none" stroke="#0a78b8" stroke-width="1.2"/>
<text x="942.5" y="188" fill="#1a9fe0" font-size="10.5" text-anchor="start" class="h"  transform="matrix(1 0 0 1.05 0 -9.4)">183/18 LM</text>
<circle cx="989.2" cy="245.3" r="3" fill="none" stroke="#e03030" stroke-width="1.2"/>
<text x="992" y="260.5" fill="#ff5a5a" font-size="10.5" text-anchor="start" class="h"  transform="matrix(1 0 0 1.05 0 -13.025)">288/19 RM</text>
<rect x="691" y="432" width="488" height="2" fill="#fff" class="c"/>
<rect x="1177" y="24" width="1.6" height="542" fill="#fff" />
<rect x="691" y="564" width="488" height="2" fill="#fff" class="c"/>
<rect x="812" y="432" width="2" height="134" fill="#fff" class="c"/>
<rect x="934" y="432" width="2" height="134" fill="#fff" class="c"/>
<rect x="1056" y="432" width="2" height="134" fill="#fff" class="c"/>
<line x1="752.1" y1="434" x2="752.1" y2="564" stroke="#0b4a8f" stroke-width="1.5" />
<line x1="693" y1="497.8" x2="812" y2="497.8" stroke="#0b4a8f" stroke-width="1.5" />
<circle cx="752.1" cy="498.8" r="5" fill="none" stroke="#c8c800" stroke-width="1"/>
<circle cx="753.4" cy="493" r="5" fill="none" stroke="#c8c800" stroke-width="1"/>
<circle cx="755" cy="488.2" r="5" fill="none" stroke="#c8c800" stroke-width="1"/>
<circle cx="756.3" cy="483.4" r="5" fill="none" stroke="#c8c800" stroke-width="1"/>
<circle cx="757.9" cy="478.7" r="5" fill="none" stroke="#c8c800" stroke-width="1"/>
<circle cx="759.2" cy="475.2" r="5" fill="none" stroke="#d000d0" stroke-width="1"/>
<line x1="751.1" y1="497.4" x2="781.8" y2="507" stroke="#fff" stroke-width="2" />
<text x="806.5" y="444" fill="#fff" font-size="10.3" text-anchor="end" class="h"  transform="matrix(1 0 0 1.04 0 -17.76)">71 deg</text>
<text x="697.5" y="562.3" fill="#fff" font-size="10.1" text-anchor="start" class="h"  transform="matrix(1 0 0 1.05 0 -28.115)">Storm Slinky</text>
<rect x="814" y="452" width="5" height="2" fill="#9a9a9a" class="c"/>
<rect x="929" y="452" width="5" height="2" fill="#9a9a9a" class="c"/>
<rect x="814" y="473" width="5" height="2" fill="#9a9a9a" class="c"/>
<rect x="929" y="473" width="5" height="2" fill="#9a9a9a" class="c"/>
<rect x="814" y="494" width="5" height="2" fill="#9a9a9a" class="c"/>
<rect x="929" y="494" width="5" height="2" fill="#9a9a9a" class="c"/>
<rect x="814" y="516" width="5" height="2" fill="#9a9a9a" class="c"/>
<rect x="929" y="516" width="5" height="2" fill="#9a9a9a" class="c"/>
<rect x="814" y="537" width="5" height="2" fill="#9a9a9a" class="c"/>
<rect x="929" y="537" width="5" height="2" fill="#9a9a9a" class="c"/>
<rect x="814" y="558" width="5" height="2" fill="#9a9a9a" class="c"/>
<rect x="929" y="558" width="5" height="2" fill="#9a9a9a" class="c"/>
<rect x="839" y="434" width="2" height="4" fill="#9a9a9a" class="c"/>
<rect x="839" y="560" width="2" height="4" fill="#9a9a9a" class="c"/>
<rect x="873" y="434" width="2" height="4" fill="#9a9a9a" class="c"/>
<rect x="873" y="560" width="2" height="4" fill="#9a9a9a" class="c"/>
<rect x="906" y="434" width="2" height="4" fill="#9a9a9a" class="c"/>
<rect x="906" y="560" width="2" height="4" fill="#9a9a9a" class="c"/>
<g clip-path="url(#tecl)"><defs><clipPath id="tecl"><rect x="814" y="434" width="120" height="130"/></clipPath></defs>
<text x="808" y="557.8" fill="#fff" font-size="8.5" text-anchor="start" class="h" >310</text>
</g>
<text x="819.5" y="456.4" fill="#fff" font-size="8.5" text-anchor="start" class="h" >500</text>
<text x="819.5" y="477.5" fill="#fff" font-size="8.5" text-anchor="start" class="h" >600</text>
<text x="819.5" y="498.6" fill="#fff" font-size="8.5" text-anchor="start" class="h" >700</text>
<text x="819.5" y="519.7" fill="#fff" font-size="8.5" text-anchor="start" class="h" >800</text>
<text x="819.5" y="540.8" fill="#fff" font-size="8.5" text-anchor="start" class="h" >900</text>
<text x="819.5" y="562" fill="#fff" font-size="8.5" text-anchor="start" class="h" >1000</text>
<text x="841.5" y="557.8" fill="#fff" font-size="8.5" text-anchor="start" class="h" >320</text>
<text x="875" y="557.8" fill="#fff" font-size="8.5" text-anchor="start" class="h" >330</text>
<text x="908.2" y="557.8" fill="#fff" font-size="8.5" text-anchor="start" class="h" >340</text>
<polyline points="892.2,433.5 886.5,434 881.7,449.9 894.1,454.1 890.3,459.5 896.1,471 872.1,475.2 896.1,476.4 845.3,479 879.8,481.5 906.6,493.6 903.7,494.9 912.3,525.6 904.1,526" fill="none" stroke="#ffff00" stroke-width="2" />
<text x="872.8" y="464.5" fill="#fff" font-size="7" text-anchor="middle" class="d" >Theta-E</text>
<text x="872.8" y="474.5" fill="#fff" font-size="7" text-anchor="middle" class="d" >v.</text>
<text x="872.8" y="484.5" fill="#fff" font-size="7" text-anchor="middle" class="d" >Pres</text>
<rect x="936" y="545" width="5" height="2" fill="#9a9a9a" class="c"/>
<rect x="1051" y="545" width="5" height="2" fill="#9a9a9a" class="c"/>
<text x="955.5" y="549.4" fill="#fff" font-size="8.5" text-anchor="end" class="h" >2</text>
<rect x="936" y="529" width="5" height="2" fill="#9a9a9a" class="c"/>
<rect x="1051" y="529" width="5" height="2" fill="#9a9a9a" class="c"/>
<text x="955.5" y="532.8" fill="#fff" font-size="8.5" text-anchor="end" class="h" >4</text>
<rect x="936" y="512" width="5" height="2" fill="#9a9a9a" class="c"/>
<rect x="1051" y="512" width="5" height="2" fill="#9a9a9a" class="c"/>
<text x="955.5" y="516.3" fill="#fff" font-size="8.5" text-anchor="end" class="h" >6</text>
<rect x="936" y="496" width="5" height="2" fill="#9a9a9a" class="c"/>
<rect x="1051" y="496" width="5" height="2" fill="#9a9a9a" class="c"/>
<text x="955.5" y="499.7" fill="#fff" font-size="8.5" text-anchor="end" class="h" >8</text>
<rect x="936" y="479" width="5" height="2" fill="#9a9a9a" class="c"/>
<rect x="1051" y="479" width="5" height="2" fill="#9a9a9a" class="c"/>
<text x="955.5" y="483.2" fill="#fff" font-size="8.5" text-anchor="end" class="h" >10</text>
<rect x="936" y="462" width="5" height="2" fill="#9a9a9a" class="c"/>
<rect x="1051" y="462" width="5" height="2" fill="#9a9a9a" class="c"/>
<text x="955.5" y="466.7" fill="#fff" font-size="8.5" text-anchor="end" class="h" >12</text>
<rect x="936" y="446" width="5" height="2" fill="#9a9a9a" class="c"/>
<rect x="1051" y="446" width="5" height="2" fill="#9a9a9a" class="c"/>
<text x="955.5" y="450.1" fill="#fff" font-size="8.5" text-anchor="end" class="h" >14</text>
<rect x="950" y="434" width="2" height="4" fill="#9a9a9a" class="c"/>
<rect x="950" y="560" width="2" height="4" fill="#9a9a9a" class="c"/>
<rect x="967" y="434" width="2" height="4" fill="#9a9a9a" class="c"/>
<rect x="967" y="560" width="2" height="4" fill="#9a9a9a" class="c"/>
<rect x="983" y="434" width="2" height="4" fill="#9a9a9a" class="c"/>
<rect x="983" y="560" width="2" height="4" fill="#9a9a9a" class="c"/>
<rect x="1000" y="434" width="2" height="4" fill="#9a9a9a" class="c"/>
<rect x="1000" y="560" width="2" height="4" fill="#9a9a9a" class="c"/>
<rect x="1017" y="434" width="2" height="4" fill="#9a9a9a" class="c"/>
<rect x="1017" y="560" width="2" height="4" fill="#9a9a9a" class="c"/>
<rect x="1033" y="434" width="2" height="4" fill="#9a9a9a" class="c"/>
<rect x="1033" y="560" width="2" height="4" fill="#9a9a9a" class="c"/>
<rect x="1050" y="434" width="2" height="4" fill="#9a9a9a" class="c"/>
<rect x="1050" y="560" width="2" height="4" fill="#9a9a9a" class="c"/>
<line x1="958.7" y1="434" x2="958.7" y2="564" stroke="#c0c0c0" stroke-width="1.6" stroke-dasharray="3 2"/>
<line x1="1001" y1="434" x2="1001" y2="496" stroke="#8a008a" stroke-width="1.6" stroke-dasharray="3 2"/>
<line x1="1051" y1="434" x2="1051" y2="496" stroke="#8a008a" stroke-width="1.6" stroke-dasharray="3 2"/>
<rect x="1048.5" y="495" width="3" height="1.5" fill="#8a008a" />
<text x="973.7" y="447.5" fill="#fff" font-size="7" text-anchor="middle" class="d" >SR Wind</text>
<text x="973.7" y="457.5" fill="#fff" font-size="7" text-anchor="middle" class="d" >v.</text>
<text x="973.7" y="467.5" fill="#fff" font-size="7" text-anchor="middle" class="d" >Height</text>
<text x="1021.4" y="457" fill="#c800c8" font-size="7" text-anchor="middle" class="d" >Classic</text>
<text x="1021.9" y="466.6" fill="#c800c8" font-size="7" text-anchor="middle" class="d" >Supercell</text>
<rect x="956.4" y="545" width="2.4" height="18.5" fill="#8b0000" class="c"/>
<polyline points="967,442.2 979.4,448 990,449.9 1000.5,450.5 1000.5,453.7 995.7,465.2 992.8,471 999.5,480.6 1001.4,494 1009.1,501.6 997.6,509.3 986.1,513.1 978.5,515.1 970.8,519.8 963.1,524.6 959.3,530 967,537.7 959.3,541.5 966,546.1 958.3,549.5 958.3,563.3" fill="none" stroke="#ff0000" stroke-width="2" />
<rect x="969" y="512" width="2" height="17.5" fill="#6495ed" class="c"/>
<rect x="996" y="470.5" width="2" height="18" fill="#9400d3" class="c"/>
<rect x="1058" y="451.7" width="120" height="1.6" fill="#fff" />
<text x="1117.5" y="446.7" fill="#fff" font-size="10.1" text-anchor="middle" class="h"  transform="matrix(1 0 0 1.05 0 -22.335)">Potential Hazard Type</text>
<text x="1117.5" y="508.7" fill="#ffc000" font-size="13.3" text-anchor="middle" class="h"  transform="matrix(1 0 0 1.13 0 -66.131)">NONE</text>
<rect x="1" y="587" width="1178" height="3" fill="#38a0d8" class="c"/>
<rect x="1" y="780" width="1178" height="2" fill="#38a0d8" class="c"/>
<rect x="1" y="587" width="3" height="195" fill="#38a0d8" class="c"/>
<rect x="1177" y="587" width="2" height="195" fill="#38a0d8" class="c"/>
<rect x="297" y="590" width="1" height="190" fill="#38a0d8" class="c"/>
<rect x="590" y="590" width="1" height="190" fill="#38a0d8" class="c"/>
<rect x="884" y="590" width="1" height="190" fill="#38a0d8" class="c"/>
<text x="40.2" y="600.7" fill="#fff" font-size="10.5" text-anchor="middle" class="h"  transform="matrix(1 0 0 1.05 0 -30.035)">PCL</text>
<text x="75.9" y="600.7" fill="#fff" font-size="10.5" text-anchor="middle" class="h"  transform="matrix(1 0 0 1.05 0 -30.035)">CAPE</text>
<text x="113.2" y="600.7" fill="#fff" font-size="10.5" text-anchor="middle" class="h"  transform="matrix(1 0 0 1.05 0 -30.035)">CINH</text>
<text x="149.5" y="600.7" fill="#fff" font-size="10.5" text-anchor="middle" class="h"  transform="matrix(1 0 0 1.05 0 -30.035)">LCL</text>
<text x="185.8" y="600.7" fill="#fff" font-size="10.5" text-anchor="middle" class="h"  transform="matrix(1 0 0 1.05 0 -30.035)">LI</text>
<text x="222.7" y="600.7" fill="#fff" font-size="10.5" text-anchor="middle" class="h"  transform="matrix(1 0 0 1.05 0 -30.035)">LFC</text>
<text x="259.3" y="600.7" fill="#fff" font-size="10.5" text-anchor="middle" class="h"  transform="matrix(1 0 0 1.05 0 -30.035)">EL</text>
<rect x="4" y="601" width="293" height="1.2" fill="#fff" class="c"/>
<text x="40.2" y="615.6" fill="#fff" font-size="10.5" text-anchor="middle" class="h"  transform="matrix(1 0 0 1.05 0 -30.78)">SFC</text>
<text x="75.9" y="615.6" fill="#fff" font-size="10.5" text-anchor="middle" class="h"  transform="matrix(1 0 0 1.05 0 -30.78)">39</text>
<text x="113.2" y="615.6" fill="#fff" font-size="10.5" text-anchor="middle" class="h"  transform="matrix(1 0 0 1.05 0 -30.78)">-8</text>
<text x="149.5" y="615.6" fill="#fff" font-size="10.5" text-anchor="middle" class="h"  transform="matrix(1 0 0 1.05 0 -30.78)">2002</text>
<text x="185.8" y="615.6" fill="#fff" font-size="10.5" text-anchor="middle" class="h"  transform="matrix(1 0 0 1.05 0 -30.78)">2</text>
<text x="222.7" y="615.6" fill="#fff" font-size="10.5" text-anchor="middle" class="h"  transform="matrix(1 0 0 1.05 0 -30.78)">2676</text>
<text x="259.3" y="615.6" fill="#fff" font-size="10.5" text-anchor="middle" class="h"  transform="matrix(1 0 0 1.05 0 -30.78)">4072</text>
<text x="40.2" y="626.6" fill="#fff" font-size="10.5" text-anchor="middle" class="h"  transform="matrix(1 0 0 1.05 0 -31.33)">EFF</text>
<text x="75.9" y="626.6" fill="#fff" font-size="10.5" text-anchor="middle" class="h"  transform="matrix(1 0 0 1.05 0 -31.33)">129</text>
<text x="113.2" y="626.6" fill="#fff" font-size="10.5" text-anchor="middle" class="h"  transform="matrix(1 0 0 1.05 0 -31.33)">-33</text>
<text x="149.5" y="626.6" fill="#fff" font-size="10.5" text-anchor="middle" class="h"  transform="matrix(1 0 0 1.05 0 -31.33)">1640</text>
<text x="185.8" y="626.6" fill="#fff" font-size="10.5" text-anchor="middle" class="h"  transform="matrix(1 0 0 1.05 0 -31.33)">1</text>
<text x="222.7" y="626.6" fill="#fff" font-size="10.5" text-anchor="middle" class="h"  transform="matrix(1 0 0 1.05 0 -31.33)">5796</text>
<text x="259.3" y="626.6" fill="#fff" font-size="10.5" text-anchor="middle" class="h"  transform="matrix(1 0 0 1.05 0 -31.33)">7009</text>
<text x="40.2" y="637.6" fill="#00ffff" font-size="10.5" text-anchor="middle" class="h"  transform="matrix(1 0 0 1.05 0 -31.88)">ML</text>
<text x="75.9" y="637.6" fill="#00ff00" font-size="10.5" text-anchor="middle" class="h"  transform="matrix(1 0 0 1.05 0 -31.88)">80</text>
<text x="113.2" y="637.6" fill="#ff00ff" font-size="10.5" text-anchor="middle" class="h"  transform="matrix(1 0 0 1.05 0 -31.88)">-16</text>
<text x="149.5" y="637.6" fill="#ffff00" font-size="10.5" text-anchor="middle" class="h"  transform="matrix(1 0 0 1.05 0 -31.88)">1793</text>
<text x="185.8" y="637.6" fill="#00ff00" font-size="10.5" text-anchor="middle" class="h"  transform="matrix(1 0 0 1.05 0 -31.88)">1</text>
<text x="222.7" y="637.6" fill="#fff" font-size="10.5" text-anchor="middle" class="h"  transform="matrix(1 0 0 1.05 0 -31.88)">6188</text>
<text x="259.3" y="637.6" fill="#fff" font-size="10.5" text-anchor="middle" class="h"  transform="matrix(1 0 0 1.05 0 -31.88)">6742</text>
<text x="40.2" y="648.6" fill="#fff" font-size="10.5" text-anchor="middle" class="h"  transform="matrix(1 0 0 1.05 0 -32.43)">MU</text>
<text x="75.9" y="648.6" fill="#fff" font-size="10.5" text-anchor="middle" class="h"  transform="matrix(1 0 0 1.05 0 -32.43)">121</text>
<text x="113.2" y="648.6" fill="#fff" font-size="10.5" text-anchor="middle" class="h"  transform="matrix(1 0 0 1.05 0 -32.43)">-34</text>
<text x="149.5" y="648.6" fill="#fff" font-size="10.5" text-anchor="middle" class="h"  transform="matrix(1 0 0 1.05 0 -32.43)">1649</text>
<text x="185.8" y="648.6" fill="#fff" font-size="10.5" text-anchor="middle" class="h"  transform="matrix(1 0 0 1.05 0 -32.43)">1</text>
<text x="222.7" y="648.6" fill="#fff" font-size="10.5" text-anchor="middle" class="h"  transform="matrix(1 0 0 1.05 0 -32.43)">5796</text>
<text x="259.3" y="648.6" fill="#fff" font-size="10.5" text-anchor="middle" class="h"  transform="matrix(1 0 0 1.05 0 -32.43)">6803</text>
<rect x="6.5" y="627.5" width="291" height="12" fill="none" stroke="#8b5a1a" stroke-width="1" class="c"/>
<rect x="4" y="652" width="293" height="1.2" fill="#fff" class="c"/>
<text x="9.5" y="665.3" fill="#fff" font-size="10.5" text-anchor="start" class="h"  transform="matrix(1 0 0 1.05 0 -33.265)">PW = 0.94in</text>
<text x="106.6" y="665.3" fill="#fff" font-size="10.5" text-anchor="start" class="h"  transform="matrix(1 0 0 1.05 0 -33.265)">K = --</text>
<text x="179.7" y="665.3" fill="#fff" font-size="10.5" text-anchor="start" class="h"  transform="matrix(1 0 0 1.05 0 -33.265)">WNDG = 0.0</text>
<text x="9.5" y="676.2" fill="#fff" font-size="10.5" text-anchor="start" class="h"  transform="matrix(1 0 0 1.05 0 -33.813)">MeanW = 8.9g/kg</text>
<text x="106.6" y="676.2" fill="#fff" font-size="10.5" text-anchor="start" class="h"  transform="matrix(1 0 0 1.05 0 -33.813)">TT = --</text>
<text x="179.7" y="676.2" fill="#fff" font-size="10.5" text-anchor="start" class="h"  transform="matrix(1 0 0 1.05 0 -33.813)">TEI = 20</text>
<text x="9.5" y="687.2" fill="#fff" font-size="10.5" text-anchor="start" class="h"  transform="matrix(1 0 0 1.05 0 -34.36)">LowRH = 53%</text>
<text x="106.6" y="687.2" fill="#fff" font-size="10.5" text-anchor="start" class="h"  transform="matrix(1 0 0 1.05 0 -34.36)">ConvT = --F</text>
<text x="179.7" y="687.2" fill="#fff" font-size="10.5" text-anchor="start" class="h"  transform="matrix(1 0 0 1.05 0 -34.36)">3CAPE = 24</text>
<text x="9.5" y="698.1" fill="#fff" font-size="10.5" text-anchor="start" class="h"  transform="matrix(1 0 0 1.05 0 -34.908)">MidRH = 74%</text>
<text x="106.6" y="698.1" fill="#fff" font-size="10.5" text-anchor="start" class="h"  transform="matrix(1 0 0 1.05 0 -34.908)">maxT = 79F</text>
<text x="179.7" y="698.1" fill="#fff" font-size="10.5" text-anchor="start" class="h"  transform="matrix(1 0 0 1.05 0 -34.908)">MBURST = --</text>
<text x="9.5" y="709.1" fill="#fff" font-size="10.5" text-anchor="start" class="h"  transform="matrix(1 0 0 1.05 0 -35.455)">DCAPE = 872</text>
<text x="106.6" y="709.1" fill="#fff" font-size="10.5" text-anchor="start" class="h"  transform="matrix(1 0 0 1.05 0 -35.455)">ESP = 0</text>
<text x="9.5" y="720" fill="#fff" font-size="10.5" text-anchor="start" class="h"  transform="matrix(1 0 0 1.05 0 -36.003)">DownT = 47F</text>
<text x="106.6" y="720" fill="#fff" font-size="10.5" text-anchor="start" class="h"  transform="matrix(1 0 0 1.05 0 -36.003)">MMP = 0.18</text>
<text x="179.7" y="720" fill="#fff" font-size="10.5" text-anchor="start" class="h"  transform="matrix(1 0 0 1.05 0 -36.003)">SigSvr = 1492 m3/s3</text>
<rect x="4" y="722" width="293" height="1.2" fill="#fff" class="c"/>
<rect x="204" y="722" width="1.2" height="58" fill="#fff" class="c"/>
<text x="9.2" y="735.9" fill="#ff0000" font-size="10.5" text-anchor="start" class="h"  transform="matrix(1 0 0 1.05 0 -36.795)">Sfc-3km AGL LR = 8.5 C/km</text>
<text x="210.2" y="735.9" fill="#fff" font-size="10.5" text-anchor="start" class="h"  transform="matrix(1 0 0 1.05 0 -36.795)">Supercell = 0.0</text>
<text x="9.2" y="747" fill="#00ff00" font-size="10.5" text-anchor="start" class="h"  transform="matrix(1 0 0 1.05 0 -37.353)">3-6km AGL LR = 5.9 C/km</text>
<text x="210.2" y="747" fill="#fff" font-size="10.5" text-anchor="start" class="h"  transform="matrix(1 0 0 1.05 0 -37.353)">STP (cin) = 0.0</text>
<text x="9.2" y="758.2" fill="#fff" font-size="10.5" text-anchor="start" class="h"  transform="matrix(1 0 0 1.05 0 -37.91)">850-500mb LR = -- C/km</text>
<text x="210.2" y="758.2" fill="#fff" font-size="10.5" text-anchor="start" class="h"  transform="matrix(1 0 0 1.05 0 -37.91)">STP (fix) = 0.0</text>
<text x="9.2" y="769.4" fill="#00ff00" font-size="10.5" text-anchor="start" class="h"  transform="matrix(1 0 0 1.05 0 -38.468)">700-500mb LR = 5.7 C/km</text>
<text x="210.2" y="769.4" fill="#fff" font-size="10.5" text-anchor="start" class="h"  transform="matrix(1 0 0 1.05 0 -38.468)">SHIP = 0.0</text>
<text x="385.9" y="603" fill="#fff" font-size="10.5" text-anchor="middle" class="h"  transform="matrix(1 0 0 1.05 0 -30.15)">SRH (m2/s2)</text>
<text x="458.8" y="603" fill="#fff" font-size="10.5" text-anchor="middle" class="h"  transform="matrix(1 0 0 1.05 0 -30.15)">Shear (kt)</text>
<text x="516.4" y="603" fill="#fff" font-size="10.5" text-anchor="middle" class="h"  transform="matrix(1 0 0 1.05 0 -30.15)">MnWind</text>
<text x="570.7" y="603" fill="#fff" font-size="10.5" text-anchor="middle" class="h"  transform="matrix(1 0 0 1.05 0 -30.15)">SRW</text>
<rect x="298.5" y="604" width="291" height="1.2" fill="#fff" class="c"/>
<text x="303.6" y="616" fill="#fff" font-size="10.5" text-anchor="start" class="h"  transform="matrix(1 0 0 1.05 0 -30.8)">SFC-1km</text>
<text x="413.7" y="616" fill="#fff" font-size="10.5" text-anchor="end" class="h"  transform="matrix(1 0 0 1.05 0 -30.8)">25</text>
<text x="472.4" y="616" fill="#fff" font-size="10.5" text-anchor="end" class="h"  transform="matrix(1 0 0 1.05 0 -30.8)">7</text>
<text x="515.4" y="616" fill="#fff" font-size="10.5" text-anchor="middle" class="h"  transform="matrix(1 0 0 1.05 0 -30.8)">263/5</text>
<text x="589" y="616" fill="#fff" font-size="10.5" text-anchor="end" class="h"  transform="matrix(1 0 0 1.05 0 -30.8)">117/14</text>
<text x="303.6" y="626.9" fill="#fff" font-size="10.5" text-anchor="start" class="h"  transform="matrix(1 0 0 1.05 0 -31.345)">SFC-3km</text>
<text x="413.7" y="626.9" fill="#fff" font-size="10.5" text-anchor="end" class="h"  transform="matrix(1 0 0 1.05 0 -31.345)">57</text>
<text x="472.4" y="626.9" fill="#fff" font-size="10.5" text-anchor="end" class="h"  transform="matrix(1 0 0 1.05 0 -31.345)">17</text>
<text x="515.4" y="626.9" fill="#fff" font-size="10.5" text-anchor="middle" class="h"  transform="matrix(1 0 0 1.05 0 -31.345)">237/9</text>
<text x="589" y="626.9" fill="#fff" font-size="10.5" text-anchor="end" class="h"  transform="matrix(1 0 0 1.05 0 -31.345)">136/15</text>
<text x="303.6" y="637.8" fill="#fff" font-size="10.5" text-anchor="start" class="h"  transform="matrix(1 0 0 1.05 0 -31.89)">Eff Inflow Layer</text>
<text x="413.7" y="637.8" fill="#fff" font-size="10.5" text-anchor="end" class="h"  transform="matrix(1 0 0 1.05 0 -31.89)">0</text>
<text x="472.4" y="637.8" fill="#fff" font-size="10.5" text-anchor="end" class="h"  transform="matrix(1 0 0 1.05 0 -31.89)">0</text>
<text x="515.4" y="637.8" fill="#fff" font-size="10.5" text-anchor="middle" class="h"  transform="matrix(1 0 0 1.05 0 -31.89)">300/4</text>
<text x="589" y="637.8" fill="#fff" font-size="10.5" text-anchor="end" class="h"  transform="matrix(1 0 0 1.05 0 -31.89)">105/15</text>
<text x="303.6" y="654" fill="#fff" font-size="10.5" text-anchor="start" class="h"  transform="matrix(1 0 0 1.05 0 -32.7)">SFC-6km</text>
<text x="472.4" y="654" fill="#fff" font-size="10.5" text-anchor="end" class="h"  transform="matrix(1 0 0 1.05 0 -32.7)">36</text>
<text x="515.4" y="654" fill="#fff" font-size="10.5" text-anchor="middle" class="h"  transform="matrix(1 0 0 1.05 0 -32.7)">236/14</text>
<text x="589" y="654" fill="#fff" font-size="10.5" text-anchor="end" class="h"  transform="matrix(1 0 0 1.05 0 -32.7)">155/15</text>
<text x="303.6" y="664.9" fill="#fff" font-size="10.5" text-anchor="start" class="h"  transform="matrix(1 0 0 1.05 0 -33.245)">SFC-8km</text>
<text x="472.4" y="664.9" fill="#fff" font-size="10.5" text-anchor="end" class="h"  transform="matrix(1 0 0 1.05 0 -33.245)">45</text>
<text x="515.4" y="664.9" fill="#fff" font-size="10.5" text-anchor="middle" class="h"  transform="matrix(1 0 0 1.05 0 -33.245)">232/17</text>
<text x="589" y="664.9" fill="#fff" font-size="10.5" text-anchor="end" class="h"  transform="matrix(1 0 0 1.05 0 -33.245)">165/17</text>
<text x="303.6" y="675.8" fill="#c88a28" font-size="10.5" text-anchor="start" class="h"  transform="matrix(1 0 0 1.05 0 -33.79)">LCL-EL (Cloud Layer)</text>
<text x="472.4" y="675.8" fill="#fff" font-size="10.5" text-anchor="end" class="h"  transform="matrix(1 0 0 1.05 0 -33.79)">32</text>
<text x="515.4" y="675.8" fill="#c88a28" font-size="10.5" text-anchor="middle" class="h"  transform="matrix(1 0 0 1.05 0 -33.79)">231/21</text>
<text x="589" y="675.8" fill="#fff" font-size="10.5" text-anchor="end" class="h"  transform="matrix(1 0 0 1.05 0 -33.79)">175/19</text>
<text x="303.6" y="686.6" fill="#fff" font-size="10.5" text-anchor="start" class="h"  transform="matrix(1 0 0 1.05 0 -34.33)">Eff Shear (EBWD)</text>
<text x="472.4" y="686.6" fill="#fff" font-size="10.5" text-anchor="end" class="h"  transform="matrix(1 0 0 1.05 0 -34.33)">17</text>
<text x="515.4" y="686.6" fill="#fff" font-size="10.5" text-anchor="middle" class="h"  transform="matrix(1 0 0 1.05 0 -34.33)">235/10</text>
<text x="589" y="686.6" fill="#fff" font-size="10.5" text-anchor="end" class="h"  transform="matrix(1 0 0 1.05 0 -34.33)">139/15</text>
<text x="303.6" y="702.8" fill="#fff" font-size="10.5" text-anchor="start" class="h"  transform="matrix(1 0 0 1.05 0 -35.14)">BRN Shear = </text>
<text x="472.4" y="702.8" fill="#fff" font-size="10.5" text-anchor="end" class="h"  transform="matrix(1 0 0 1.05 0 -35.14)">16 m2/s2</text>
<text x="303.6" y="713.7" fill="#fff" font-size="10.5" text-anchor="start" class="h"  transform="matrix(1 0 0 1.05 0 -35.685)">4-6km SR Wind = </text>
<text x="472.4" y="713.7" fill="#fff" font-size="10.5" text-anchor="end" class="h"  transform="matrix(1 0 0 1.05 0 -35.685)">192/18 kt</text>
<text x="303.6" y="730" fill="#fff" font-size="10.5" text-anchor="start" class="h"  transform="matrix(1 0 0 1.05 0 -36.5)">...Storm Motion Vectors...</text>
<text x="303.6" y="740.8" fill="#ff5a5a" font-size="10.5" text-anchor="start" class="h"  transform="matrix(1 0 0 1.05 0 -37.04)">Bunkers Right = </text>
<text x="472.4" y="740.8" fill="#ff5a5a" font-size="10.5" text-anchor="end" class="h"  transform="matrix(1 0 0 1.05 0 -37.04)">288/19 kt</text>
<text x="303.6" y="751.7" fill="#1a9fe0" font-size="10.5" text-anchor="start" class="h"  transform="matrix(1 0 0 1.05 0 -37.585)">Bunkers Left = </text>
<text x="472.4" y="751.7" fill="#1a9fe0" font-size="10.5" text-anchor="end" class="h"  transform="matrix(1 0 0 1.05 0 -37.585)">183/18 kt</text>
<text x="303.6" y="763" fill="#fff" font-size="10.5" text-anchor="start" class="h"  transform="matrix(1 0 0 1.05 0 -38.15)">Corfidi Downshear = </text>
<text x="472.4" y="763" fill="#fff" font-size="10.5" text-anchor="end" class="h"  transform="matrix(1 0 0 1.05 0 -38.15)">226/35 kt</text>
<text x="303.6" y="774" fill="#fff" font-size="10.5" text-anchor="start" class="h"  transform="matrix(1 0 0 1.05 0 -38.7)">Corfidi Upshear = </text>
<text x="472.4" y="774" fill="#fff" font-size="10.5" text-anchor="end" class="h"  transform="matrix(1 0 0 1.05 0 -38.7)">221/15 kt</text>
<text x="531.7" y="763" fill="#fff" font-size="10.5" text-anchor="middle" class="h"  transform="matrix(1 0 0 1.05 0 -38.15)">1km &amp; 6km AGL</text>
<text x="531.7" y="774" fill="#fff" font-size="10.5" text-anchor="middle" class="h"  transform="matrix(1 0 0 1.05 0 -38.7)">Wind Barbs</text>
<path d="M532.7 724.7L514.5 742.8M514.5 742.8L506.7 735M517.3 740L509.6 732.2M520.2 737.2L512.4 729.4M523 734.3L518.8 730.1" fill="none" stroke="#b4b400" stroke-width="1.15" stroke-linecap="square"/>
<path d="M532.7 724.7L509.2 735.4M509.2 735.4L505.1 726.3" fill="none" stroke="#00e8c0" stroke-width="1.15" stroke-linecap="square"/>
<text x="737.8" y="606.8" fill="#fff" font-size="16.4" text-anchor="middle" class="h" >SARS - Sounding Analogue System</text>
<rect x="591.5" y="614" width="292" height="1.2" fill="#fff" class="c"/>
<rect x="738" y="614" width="1.2" height="166" fill="#fff" class="c"/>
<text x="664" y="631" fill="#fff" font-size="13.65" text-anchor="middle" class="h"  transform="matrix(1 0 0 1.1 0 -63.1)">SUPERCELL</text>
<text x="811" y="631" fill="#fff" font-size="13.65" text-anchor="middle" class="h"  transform="matrix(1 0 0 1.1 0 -63.1)">SEVERE HAIL</text>
<text x="664" y="675.3" fill="#ffc800" font-size="9" text-anchor="middle" class="d" >No Quality Matches</text>
<text x="811" y="675.3" fill="#ffc800" font-size="9" text-anchor="middle" class="d" >No Quality Matches</text>
<text x="1030.4" y="602.8" fill="#fff" font-size="12.5" text-anchor="middle" class="h" >Effective Layer STP (with CIN)</text>
<line x1="886" y1="763" x2="1176" y2="763" stroke="#363636" stroke-width="1.8" stroke-dasharray="3.8 2.3"/>
<text x="900.2" y="767" fill="#fff" font-size="11" text-anchor="end" class="h" >0</text>
<line x1="886" y1="749.3" x2="1176" y2="749.3" stroke="#363636" stroke-width="1.8" stroke-dasharray="3.8 2.3"/>
<text x="900.2" y="753.3" fill="#fff" font-size="11" text-anchor="end" class="h" >1</text>
<line x1="886" y1="735.6" x2="1176" y2="735.6" stroke="#363636" stroke-width="1.8" stroke-dasharray="3.8 2.3"/>
<text x="900.2" y="739.6" fill="#fff" font-size="11" text-anchor="end" class="h" >2</text>
<line x1="886" y1="722" x2="1176" y2="722" stroke="#363636" stroke-width="1.8" stroke-dasharray="3.8 2.3"/>
<text x="900.2" y="726" fill="#fff" font-size="11" text-anchor="end" class="h" >3</text>
<line x1="886" y1="708.3" x2="1176" y2="708.3" stroke="#363636" stroke-width="1.8" stroke-dasharray="3.8 2.3"/>
<text x="900.2" y="712.3" fill="#fff" font-size="11" text-anchor="end" class="h" >4</text>
<line x1="886" y1="694.6" x2="1176" y2="694.6" stroke="#363636" stroke-width="1.8" stroke-dasharray="3.8 2.3"/>
<text x="900.2" y="698.6" fill="#fff" font-size="11" text-anchor="end" class="h" >5</text>
<line x1="886" y1="680.9" x2="1176" y2="680.9" stroke="#363636" stroke-width="1.8" stroke-dasharray="3.8 2.3"/>
<text x="900.2" y="684.9" fill="#fff" font-size="11" text-anchor="end" class="h" >6</text>
<line x1="886" y1="667.2" x2="1176" y2="667.2" stroke="#363636" stroke-width="1.8" stroke-dasharray="3.8 2.3"/>
<text x="900.2" y="671.2" fill="#fff" font-size="11" text-anchor="end" class="h" >7</text>
<line x1="886" y1="653.6" x2="1176" y2="653.6" stroke="#363636" stroke-width="1.8" stroke-dasharray="3.8 2.3"/>
<text x="900.2" y="657.6" fill="#fff" font-size="11" text-anchor="end" class="h" >8</text>
<line x1="886" y1="639.9" x2="1176" y2="639.9" stroke="#363636" stroke-width="1.8" stroke-dasharray="3.8 2.3"/>
<text x="900.2" y="643.9" fill="#fff" font-size="11" text-anchor="end" class="h" >9</text>
<line x1="886" y1="626.2" x2="1176" y2="626.2" stroke="#363636" stroke-width="1.8" stroke-dasharray="3.8 2.3"/>
<text x="900.2" y="630.2" fill="#fff" font-size="11" text-anchor="end" class="h" >10</text>
<line x1="886" y1="612.5" x2="1176" y2="612.5" stroke="#363636" stroke-width="1.8" stroke-dasharray="3.8 2.3"/>
<text x="900.2" y="616.5" fill="#fff" font-size="11" text-anchor="end" class="h" >11</text>
<rect x="885" y="762" width="292" height="2" fill="#00dcdc" class="c"/>
<line x1="926.2" y1="611.1" x2="926.2" y2="648.7" stroke="#ff00ff" stroke-width="1.8" />
<line x1="926.2" y1="727.3" x2="926.2" y2="746.5" stroke="#ff00ff" stroke-width="1.8" />
<rect x="915.8" y="648.7" width="21.2" height="78.6" fill="none" stroke="#ff00ff" stroke-width="1.8" />
<line x1="915.8" y1="689.7" x2="937" y2="689.7" stroke="#ff00ff" stroke-width="1.8" />
<line x1="968.2" y1="646.1" x2="968.2" y2="700.6" stroke="#ff0000" stroke-width="1.8" />
<line x1="968.2" y1="749" x2="968.2" y2="760.7" stroke="#ff0000" stroke-width="1.8" />
<rect x="957.8" y="700.6" width="21.5" height="48.4" fill="none" stroke="#ff0000" stroke-width="1.8" />
<line x1="957.8" y1="729.6" x2="979.3" y2="729.6" stroke="#ff0000" stroke-width="1.8" />
<line x1="1010.2" y1="685" x2="1010.2" y2="711.7" stroke="#ff8a1e" stroke-width="1.8" />
<line x1="1010.2" y1="753.7" x2="1010.2" y2="762.8" stroke="#ff8a1e" stroke-width="1.8" />
<rect x="999.8" y="711.7" width="21.5" height="42" fill="none" stroke="#ff8a1e" stroke-width="1.8" />
<line x1="999.8" y1="738.9" x2="1021.3" y2="738.9" stroke="#ff8a1e" stroke-width="1.8" />
<line x1="1051.6" y1="699.8" x2="1051.6" y2="726.5" stroke="#ffff00" stroke-width="1.8" />
<line x1="1051.6" y1="758.4" x2="1051.6" y2="762.8" stroke="#ffff00" stroke-width="1.8" />
<rect x="1040.7" y="726.5" width="21.6" height="31.9" fill="none" stroke="#ffff00" stroke-width="1.8" />
<line x1="1040.7" y1="745.2" x2="1062.3" y2="745.2" stroke="#ffff00" stroke-width="1.8" />
<line x1="1093.6" y1="711.4" x2="1093.6" y2="734.8" stroke="#ffff00" stroke-width="1.8" />
<line x1="1093.6" y1="760.7" x2="1093.6" y2="762.8" stroke="#ffff00" stroke-width="1.8" />
<rect x="1083" y="734.8" width="21.3" height="25.9" fill="none" stroke="#ffff00" stroke-width="1.8" />
<line x1="1083" y1="751.6" x2="1104.3" y2="751.6" stroke="#ffff00" stroke-width="1.8" />
<line x1="1135.9" y1="738.2" x2="1135.9" y2="752.4" stroke="#00ff00" stroke-width="1.8" />
<line x1="1135.9" y1="762.3" x2="1135.9" y2="762.3" stroke="#00ff00" stroke-width="1.8" />
<rect x="1125" y="752.4" width="21.3" height="9.9" fill="none" stroke="#00ff00" stroke-width="1.8" />
<line x1="1125" y1="759.4" x2="1146.3" y2="759.4" stroke="#00ff00" stroke-width="1.8" />
<text x="926.2" y="775.8" fill="#fff" font-size="10.2" text-anchor="middle" class="h" >EF4+</text>
<text x="968.2" y="775.8" fill="#fff" font-size="10.2" text-anchor="middle" class="h" >EF3</text>
<text x="1010.2" y="775.8" fill="#fff" font-size="10.2" text-anchor="middle" class="h" >EF2</text>
<text x="1051.6" y="775.8" fill="#fff" font-size="10.2" text-anchor="middle" class="h" >EF1</text>
<text x="1093.6" y="775.8" fill="#fff" font-size="10.2" text-anchor="middle" class="h" >EF0</text>
<text x="1135.9" y="775.8" fill="#fff" font-size="10.2" text-anchor="middle" class="h" >NONTOR</text>
<rect x="1031" y="612" width="142" height="84" fill="#000" stroke="#fff" stroke-width="1.6" class="c"/>
<text x="1034.5" y="624" fill="#fff" font-size="10.15" text-anchor="start" class="h"  transform="matrix(1 0 0 1.05 0 -31.2)">Prob EF2+ Given Supercell</text>
<rect x="1031" y="624.5" width="142" height="1.2" fill="#fff" class="c"/>
<text x="1033.7" y="636.2" fill="#fff" font-size="10.3" text-anchor="start" class="h"  transform="matrix(1 0 0 1.04 0 -25.448)">based on CAPE:</text>
<text x="1158.7" y="636.2" fill="#fff" font-size="10.3" text-anchor="end" class="h"  transform="matrix(1 0 0 1.04 0 -25.448)">0.12</text>
<text x="1033.7" y="647.1" fill="#fff" font-size="10.3" text-anchor="start" class="h"  transform="matrix(1 0 0 1.04 0 -25.884)">based on LCL:</text>
<text x="1158.7" y="647.1" fill="#fff" font-size="10.3" text-anchor="end" class="h"  transform="matrix(1 0 0 1.04 0 -25.884)">0.06</text>
<text x="1033.7" y="658" fill="#fff" font-size="10.3" text-anchor="start" class="h"  transform="matrix(1 0 0 1.04 0 -26.32)">based on ESRH:</text>
<text x="1158.7" y="658" fill="#fff" font-size="10.3" text-anchor="end" class="h"  transform="matrix(1 0 0 1.04 0 -26.32)">0.06</text>
<text x="1033.7" y="668.9" fill="#00ff00" font-size="10.3" text-anchor="start" class="h"  transform="matrix(1 0 0 1.04 0 -26.756)">based on EBWD:</text>
<text x="1158.7" y="668.9" fill="#00ff00" font-size="10.3" text-anchor="end" class="h"  transform="matrix(1 0 0 1.04 0 -26.756)">0.03</text>
<text x="1033.7" y="679.8" fill="#fff" font-size="10.3" text-anchor="start" class="h"  transform="matrix(1 0 0 1.04 0 -27.192)">based on STPC:</text>
<text x="1158.7" y="679.8" fill="#fff" font-size="10.3" text-anchor="end" class="h"  transform="matrix(1 0 0 1.04 0 -27.192)">0.06</text>
<text x="1033.7" y="690.7" fill="#fff" font-size="10.3" text-anchor="start" class="h"  transform="matrix(1 0 0 1.04 0 -27.628)">based on STP_fixed:</text>
<text x="1158.7" y="690.7" fill="#fff" font-size="10.3" text-anchor="end" class="h"  transform="matrix(1 0 0 1.04 0 -27.628)">0.05</text>
</svg>
</body></html>
